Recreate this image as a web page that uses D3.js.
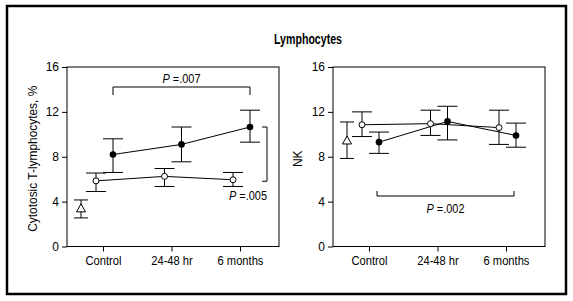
<!DOCTYPE html>
<html><head><meta charset="UTF-8">
<script src="https://cdn.jsdelivr.net/npm/d3@7"></script>
<style>
  body { margin: 0; background: #fff; }
  svg text { font-family: "Liberation Sans Narrow", "Arial Narrow", "Liberation Sans", Arial, sans-serif; fill: #000; }
</style>
</head>
<body>
<svg id="chart" width="573" height="301"></svg>
<script>
// categories and values (mean, lower, upper)
const groups = ["Control", "24-48 hr", "6 months"];
const yTicks = [0, 4, 8, 12, 16];

// left panel: cytotoxic T-lymphocytes, %
const tBaseline = {mean: 3.4, lo: 2.55, hi: 4.15};
const tOpen   = [{mean: 5.85, lo: 4.9, hi: 6.55}, {mean: 6.25, lo: 5.35, hi: 6.95}, {mean: 5.95, lo: 5.35, hi: 6.6}];
const tFilled = [{mean: 8.2, lo: 6.6, hi: 9.6}, {mean: 9.1, lo: 7.55, hi: 10.65}, {mean: 10.65, lo: 9.3, hi: 12.15}];

// right panel: NK
const nkBaseline = {mean: 9.45, lo: 7.85, hi: 11.1};
const nkOpen   = [{mean: 10.85, lo: 9.8, hi: 12.0}, {mean: 10.95, lo: 9.9, hi: 12.15}, {mean: 10.6, lo: 9.1, hi: 12.15}];
const nkFilled = [{mean: 9.3, lo: 8.3, hi: 10.2}, {mean: 11.15, lo: 9.5, hi: 12.5}, {mean: 9.9, lo: 8.85, hi: 11.0}];

const svg = d3.select("#chart");

// outer frame
svg.append("rect").attr("x", 7).attr("y", 6).attr("width", 559).attr("height", 288)
  .attr("fill", "none").attr("stroke", "#000").attr("stroke-width", 2.5);

svg.append("text").attr("x", 308).attr("y", 44).attr("text-anchor", "middle")
  .attr("font-size", 14).attr("font-weight", "bold")
  .attr("textLength", 68).attr("lengthAdjust", "spacingAndGlyphs").text("Lymphocytes");

function panel(left, label, labelX, labelLen, baseline, open, filled) {
  const x = d3.scalePoint().domain(groups).range([left + 36, left + 173]);
  const y = d3.scaleLinear().domain([0, 16]).range([246.5, 67]);
  const g = svg.append("g");

  // plot box
  g.append("rect").attr("x", left).attr("y", y(16)).attr("width", 212).attr("height", y(0) - y(16))
    .attr("fill", "none").attr("stroke", "#000").attr("stroke-width", 1);

  const ya = g.append("g").attr("transform", `translate(${left},0)`)
    .call(d3.axisLeft(y).tickValues(yTicks).tickSize(5).tickPadding(3));
  ya.select(".domain").remove();
  ya.selectAll("text").attr("font-size", 12);

  const xa = g.append("g").attr("transform", `translate(0,${y(0)})`)
    .call(d3.axisBottom(x).tickSize(5).tickPadding(5));
  xa.select(".domain").remove();
  xa.selectAll("text").attr("font-size", 12).attr("transform", "scale(0.93,1)");

  const yl = g.append("text").attr("transform", `translate(${labelX},${y(8) + 2}) rotate(-90)`)
    .attr("text-anchor", "middle").attr("font-size", 12).text(label);
  if (labelLen) yl.attr("textLength", labelLen).attr("lengthAdjust", "spacingAndGlyphs");

  function errBar(cx, d, half) {
    g.append("line").attr("x1", cx).attr("x2", cx).attr("y1", y(d.lo)).attr("y2", y(d.hi)).attr("stroke", "#000");
    [d.lo, d.hi].forEach(v => g.append("line").attr("x1", cx - half).attr("x2", cx + half)
      .attr("y1", y(v)).attr("y2", y(v)).attr("stroke", "#000"));
  }

  const line = d3.line().x(d => d[0]).y(d => d[1]);
  const openPts = open.map((d, i) => [x(groups[i]) - 7, y(d.mean)]);
  const filledPts = filled.map((d, i) => [x(groups[i]) + 10, y(d.mean)]);

  // baseline triangle
  const bx = x(groups[0]) - 22;
  errBar(bx, baseline, 7);
  const by = y(baseline.mean);
  g.append("path").attr("d", `M${bx},${by - 4.5}L${bx + 4.5},${by + 3.5}L${bx - 4.5},${by + 3.5}Z`)
    .attr("fill", "#fff").attr("stroke", "#000");

  filled.forEach((d, i) => errBar(filledPts[i][0], d, 10));
  open.forEach((d, i) => errBar(openPts[i][0], d, 10));

  g.append("path").attr("d", line(filledPts)).attr("fill", "none").attr("stroke", "#000");
  g.append("path").attr("d", line(openPts)).attr("fill", "none").attr("stroke", "#000");

  g.selectAll(".f").data(filledPts).enter().append("circle")
    .attr("cx", d => d[0]).attr("cy", d => d[1]).attr("r", 3.3).attr("fill", "#000");
  g.selectAll(".o").data(openPts).enter().append("circle")
    .attr("cx", d => d[0]).attr("cy", d => d[1]).attr("r", 3).attr("fill", "#fff").attr("stroke", "#000");

  return {g, x, y, openPts, filledPts};
}

function pText(g, px, py, val, anchor) {
  const t = g.append("text").attr("x", px).attr("y", py).attr("text-anchor", anchor).attr("font-size", 12)
    .attr("textLength", 38).attr("lengthAdjust", "spacingAndGlyphs");
  t.append("tspan").attr("font-style", "italic").text("P");
  t.append("tspan").text(" =" + val);
}

// left panel
const L = panel(67, "Cytotosic T-lymphocytes, %", 37, 146, tBaseline, tOpen, tFilled);
const x1 = L.filledPts[0][0], x2 = L.filledPts[2][0];
L.g.append("path").attr("d", `M${x1},95V87H${x2}V95`).attr("fill", "none").attr("stroke", "#000");
pText(L.g, (x1 + x2) / 2, 83, ".007", "middle");
const yb1 = L.y(tFilled[2].mean), yb2 = L.y(tOpen[2].mean) + 1.5;
L.g.append("path").attr("d", `M262,${yb1}H267V${yb2}H262`).attr("fill", "none").attr("stroke", "#000");
pText(L.g, 267, 200, ".005", "end");

// right panel
const R = panel(333, "NK", 302, null, nkBaseline, nkOpen, nkFilled);
const r1 = R.filledPts[0][0] - 2, r2 = R.filledPts[2][0] - 2;
R.g.append("path").attr("d", `M${r1},191V196H${r2}V191`).attr("fill", "none").attr("stroke", "#000");
pText(R.g, (r1 + r2) / 2, 213, ".002", "middle");
</script>
</body>
</html>
